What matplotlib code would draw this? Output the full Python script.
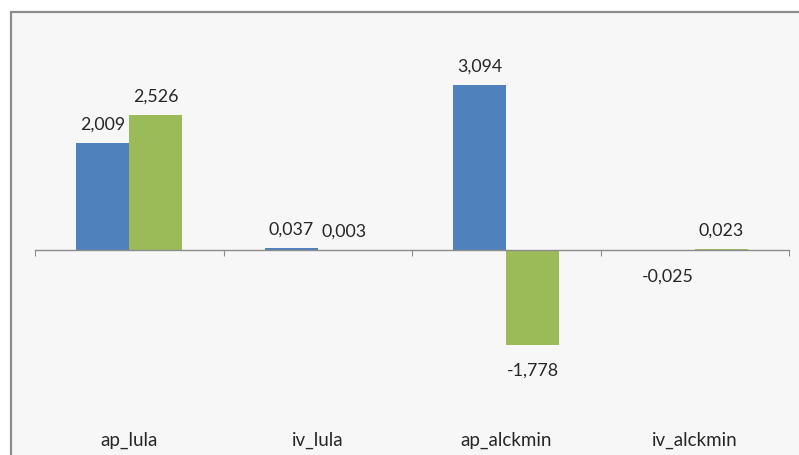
import numpy as np
import matplotlib.pyplot as plt
from matplotlib.patches import Rectangle

categories = ['ap_lula', 'iv_lula', 'ap_alckmin', 'iv_alckmin']
serie_azul = [2.009, 0.037, 3.094, -0.025]
serie_verde = [2.526, 0.003, -1.778, 0.023]

azul = '#4F81BD'
verde = '#9BBB59'

plt.rcParams['font.family'] = ['Lato', 'DejaVu Sans']

fig = plt.figure(figsize=(7.99, 4.56), dpi=100)
fig.patch.set_facecolor('white')

# chart area frame (right and bottom edges fall outside the picture)
frame = Rectangle((11 / 799, -0.1), 1.2, (456 - 13) / 456 + 0.1,
                  transform=fig.transFigure, facecolor='#F7F7F7',
                  edgecolor='#8C8C8C', linewidth=1.6, zorder=-1)
fig.add_artist(frame)

ax = fig.add_axes([35 / 799, 1 - 440 / 456, (789 - 35) / 799, (440 - 30) / 456])
ax.set_facecolor('none')

x = np.arange(len(categories))
w = 0.281
b1 = ax.bar(x - w / 2, serie_azul, w, color=azul, zorder=2)
b2 = ax.bar(x + w / 2, serie_verde, w, color=verde, zorder=2)

ax.set_xlim(-0.5, 3.5)
ax.set_ylim(-3.54, 4.14)


def fmt(v):
    return f'{v:.3f}'.replace('.', ',')


for bars, vals in [(b1, serie_azul), (b2, serie_verde)]:
    for rect, v in zip(bars, vals):
        cx = rect.get_x() + rect.get_width() / 2
        if v >= 0:
            ax.annotate(fmt(v), (cx, v), xytext=(0, 8), textcoords='offset points',
                        ha='center', va='bottom', fontsize=12.8, color='#262626')
        else:
            ax.annotate(fmt(v), (cx, v), xytext=(0, -12), textcoords='offset points',
                        ha='center', va='top', fontsize=12.8, color='#262626')

for spine in ['top', 'right', 'left']:
    ax.spines[spine].set_visible(False)
ax.spines['bottom'].set_position(('data', 0))
ax.spines['bottom'].set_color('#8C8C8C')
ax.spines['bottom'].set_linewidth(1.0)
ax.set_yticks([])
ax.set_xticks(np.arange(-0.5, 4, 1))
ax.set_xticklabels([])
ax.tick_params(axis='x', direction='out', length=4, color='#8C8C8C')

for xi, name in zip(x, categories):
    ax.text(xi, 0.0, name, transform=ax.get_xaxis_transform(),
            ha='center', va='center', fontsize=13.5, color='#262626')

fig.savefig('out.png', dpi=100)
